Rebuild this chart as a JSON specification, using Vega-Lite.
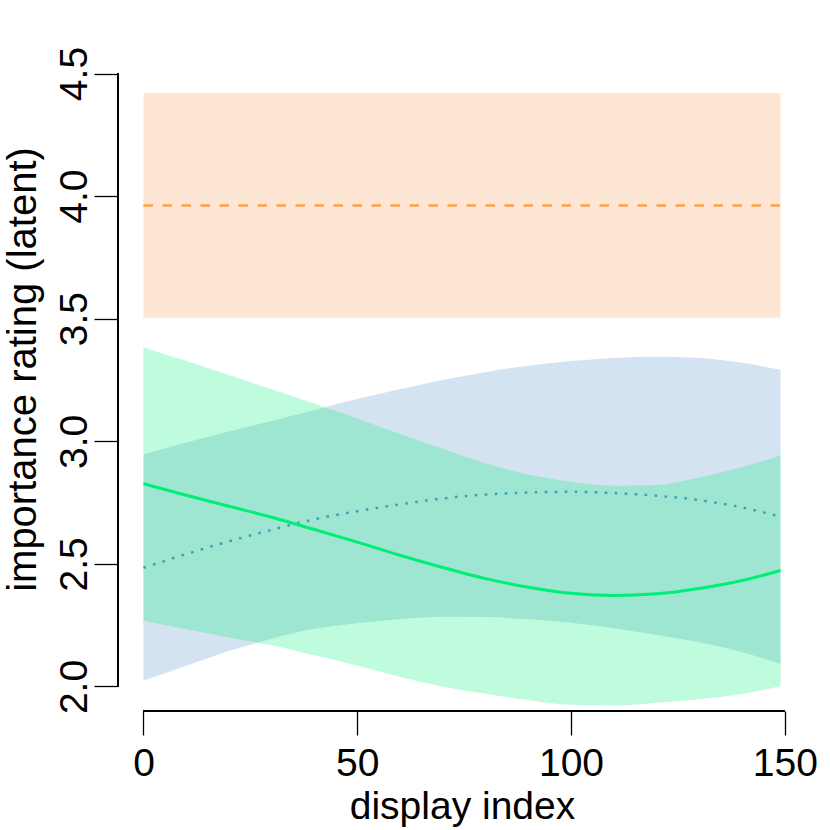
{
  "$schema": "https://vega.github.io/schema/vega-lite/v6.json",
  "width": 688,
  "height": 662,
  "autosize": {"type": "none"},
  "padding": {"left": 118, "top": 49, "right": 24, "bottom": 119},
  "background": "white",
  "config": {
    "view": {"stroke": null},
    "font": "Liberation Sans",
    "axis": {"grid": false, "domain": false, "tickColor": "#000000", "tickWidth": 1.3, "tickSize": 24, "labelColor": "#000000", "titleColor": "#000000", "labelFont": "Liberation Sans", "titleFont": "Liberation Sans", "labelFontSize": 39, "titleFontSize": 39, "titleFontWeight": "normal"}
  },
  "data": {
    "values": [
      {"s": "orange", "x": 0, "lo": 3.504, "hi": 4.421, "m": 3.962},
      {"s": "orange", "x": 149, "lo": 3.504, "hi": 4.421, "m": 3.962},
      {"s": "blue", "x": 0, "lo": 2.024, "hi": 2.946, "m": 2.484},
      {"s": "blue", "x": 10, "lo": 2.085, "hi": 2.995, "m": 2.54},
      {"s": "blue", "x": 20, "lo": 2.145, "hi": 3.04, "m": 2.592},
      {"s": "blue", "x": 30, "lo": 2.195, "hi": 3.083, "m": 2.639},
      {"s": "blue", "x": 40, "lo": 2.235, "hi": 3.128, "m": 2.682},
      {"s": "blue", "x": 50, "lo": 2.258, "hi": 3.172, "m": 2.715},
      {"s": "blue", "x": 60, "lo": 2.274, "hi": 3.212, "m": 2.743},
      {"s": "blue", "x": 70, "lo": 2.284, "hi": 3.25, "m": 2.767},
      {"s": "blue", "x": 80, "lo": 2.283, "hi": 3.282, "m": 2.783},
      {"s": "blue", "x": 90, "lo": 2.274, "hi": 3.308, "m": 2.791},
      {"s": "blue", "x": 100, "lo": 2.26, "hi": 3.327, "m": 2.794},
      {"s": "blue", "x": 110, "lo": 2.238, "hi": 3.34, "m": 2.789},
      {"s": "blue", "x": 120, "lo": 2.21, "hi": 3.345, "m": 2.778},
      {"s": "blue", "x": 130, "lo": 2.18, "hi": 3.34, "m": 2.76},
      {"s": "blue", "x": 140, "lo": 2.14, "hi": 3.32, "m": 2.73},
      {"s": "blue", "x": 149, "lo": 2.093, "hi": 3.292, "m": 2.693},
      {"s": "green", "x": 0, "lo": 2.268, "hi": 3.384, "m": 2.827},
      {"s": "green", "x": 10, "lo": 2.233, "hi": 3.327, "m": 2.78},
      {"s": "green", "x": 20, "lo": 2.2, "hi": 3.27, "m": 2.735},
      {"s": "green", "x": 30, "lo": 2.168, "hi": 3.212, "m": 2.69},
      {"s": "green", "x": 40, "lo": 2.127, "hi": 3.153, "m": 2.64},
      {"s": "green", "x": 50, "lo": 2.085, "hi": 3.093, "m": 2.589},
      {"s": "green", "x": 60, "lo": 2.04, "hi": 3.03, "m": 2.535},
      {"s": "green", "x": 70, "lo": 2.0, "hi": 2.97, "m": 2.485},
      {"s": "green", "x": 80, "lo": 1.97, "hi": 2.91, "m": 2.44},
      {"s": "green", "x": 90, "lo": 1.945, "hi": 2.865, "m": 2.405},
      {"s": "green", "x": 100, "lo": 1.925, "hi": 2.835, "m": 2.38},
      {"s": "green", "x": 110, "lo": 1.922, "hi": 2.819, "m": 2.371},
      {"s": "green", "x": 120, "lo": 1.934, "hi": 2.822, "m": 2.378},
      {"s": "green", "x": 130, "lo": 1.948, "hi": 2.852, "m": 2.4},
      {"s": "green", "x": 140, "lo": 1.969, "hi": 2.895, "m": 2.432},
      {"s": "green", "x": 149, "lo": 2.002, "hi": 2.942, "m": 2.473}
    ]
  },
  "encoding": {
    "x": {"field": "x", "type": "quantitative", "scale": {"domain": [-5.96, 154.96], "nice": false, "zero": false},
      "axis": {"values": [0, 50, 100, 150], "title": "display index", "labelPadding": 9, "labelFlush": false, "labelOverlap": false, "labelBound": false, "titleBaseline": "alphabetic", "titleY": 107, "titleX": 344, "titleAlign": "center"}},
    "y": {"field": "lo", "type": "quantitative", "scale": {"domain": [1.9, 4.6], "nice": false, "zero": false},
      "axis": {"values": [2, 2.5, 3, 3.5, 4, 4.5], "format": ".1f", "title": "importance rating (latent)", "titleFontSize": 40, "labelAngle": 270, "labelAlign": "center", "labelBaseline": "alphabetic", "labelPadding": 8, "labelOverlap": false, "labelBound": false, "labelFlush": false, "titleAngle": 270, "titleBaseline": "alphabetic", "titleAlign": "center", "titleX": -83, "titleY": 320}}
  },
  "layer": [
    {"transform": [{"filter": "datum.s === 'orange'"}], "mark": {"type": "area", "color": "#FDE6D3", "opacity": 1},
      "encoding": {"y2": {"field": "hi"}}},
    {"transform": [{"filter": "datum.s === 'orange'"}], "mark": {"type": "line", "color": "#FCA04C", "strokeWidth": 2.5, "strokeDash": [9.5, 9.5], "strokeCap": "butt"},
      "encoding": {"y": {"field": "m", "type": "quantitative"}}},
    {"transform": [{"filter": "datum.s === 'blue'"}], "mark": {"type": "area", "color": "#D3E3F1", "opacity": 1, "interpolate": "monotone"},
      "encoding": {"y2": {"field": "hi"}}},
    {"transform": [{"filter": "datum.s === 'green'"}], "mark": {"type": "area", "color": "#00EE76", "opacity": 0.25, "interpolate": "monotone"},
      "encoding": {"y2": {"field": "hi"}}},
    {"transform": [{"filter": "datum.s === 'blue'"}], "mark": {"type": "line", "color": "#3A9EB6", "strokeWidth": 2.5, "strokeDash": [2.5, 7.5], "strokeCap": "butt", "interpolate": "monotone"},
      "encoding": {"y": {"field": "m", "type": "quantitative"}}},
    {"transform": [{"filter": "datum.s === 'green'"}], "mark": {"type": "line", "color": "#00EE76", "strokeWidth": 3, "interpolate": "monotone"},
      "encoding": {"y": {"field": "m", "type": "quantitative"}}},
    {"mark": {"type": "rule", "color": "#000000", "strokeWidth": 1.3},
      "encoding": {"x": {"datum": 0, "type": "quantitative"}, "x2": {"datum": 150}, "y": {"datum": 1.9, "type": "quantitative"}}},
    {"mark": {"type": "rule", "color": "#000000", "strokeWidth": 1.3},
      "encoding": {"x": {"datum": -5.96, "type": "quantitative"}, "y": {"datum": 2, "type": "quantitative"}, "y2": {"datum": 4.5}}}
  ]
}
